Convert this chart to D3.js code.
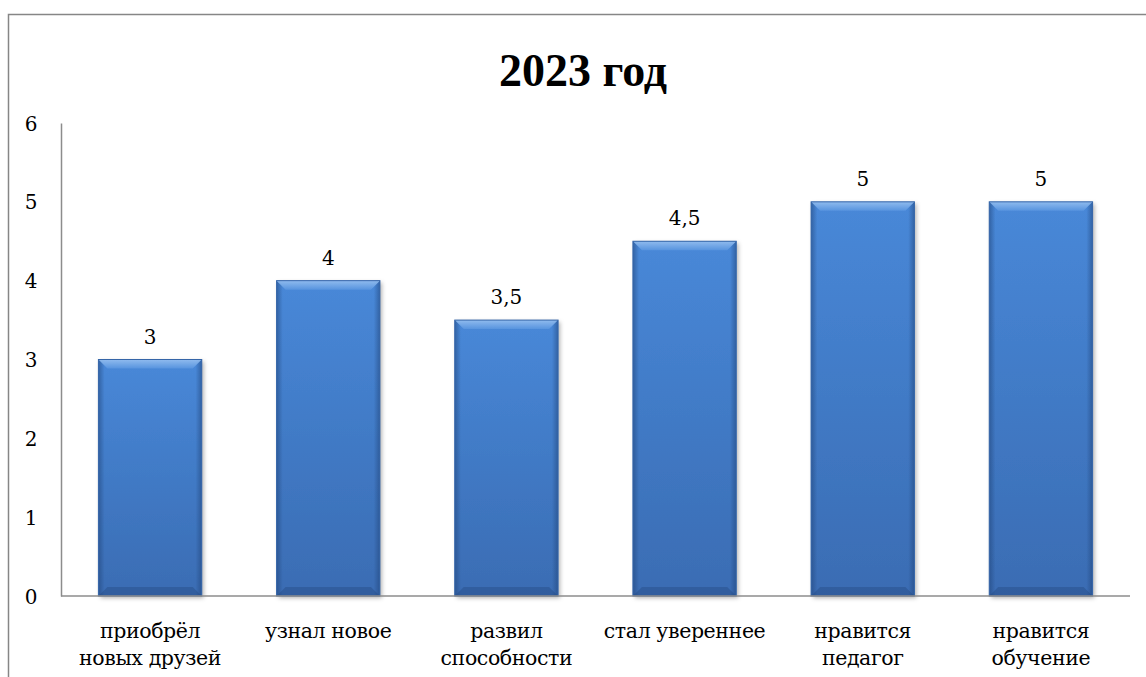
<!DOCTYPE html>
<html>
<head>
<meta charset="utf-8">
<script src="https://cdn.jsdelivr.net/npm/d3@7"></script>
<style>
  body { margin: 0; background: #fff; }
</style>
</head>
<body>
<svg id="chart" width="1146" height="677"></svg>
<script>
// data
const categories = [
  ['приобрёл', 'новых друзей'],
  ['узнал новое'],
  ['развил', 'способности'],
  ['стал увереннее'],
  ['нравится', 'педагог'],
  ['нравится', 'обучение']
];
const values = [3, 4, 3.5, 4.5, 5, 5];
const yTicks = [0, 1, 2, 3, 4, 5, 6];
const title = '2023 год';

const textFont = 'DejaVu Serif';

const svg = d3.select('#chart');

// outer frame (only left and top are inside the picture)
svg.append('rect')
  .attr('x', 8.5).attr('y', 14.5)
  .attr('width', 1200).attr('height', 800)
  .attr('fill', 'none')
  .attr('stroke', '#868686')
  .attr('stroke-width', 1.5);

const plotLeft = 61, plotRight = 1130, plotTop = 123, plotBottom = 596;

const xScale = d3.scaleBand()
  .domain(d3.range(values.length))
  .range([plotLeft, plotRight])
  .paddingInner(0.42)
  .paddingOuter(0.21);

const yScale = d3.scaleLinear()
  .domain([0, 6])
  .range([plotBottom, plotTop]);

// gradients for the bevelled bars
const defs = svg.append('defs');
const vg = defs.append('linearGradient').attr('id', 'barV')
  .attr('x1', 0).attr('y1', 0).attr('x2', 0).attr('y2', 1);
vg.append('stop').attr('offset', '0%').attr('stop-color', '#4888d8');
vg.append('stop').attr('offset', '100%').attr('stop-color', '#3a6cb3');

const hg = defs.append('linearGradient').attr('id', 'barH')
  .attr('x1', 0).attr('y1', 0).attr('x2', 1).attr('y2', 0);
hg.append('stop').attr('offset', '0%').attr('stop-color', '#1d3f72').attr('stop-opacity', 0.5);
hg.append('stop').attr('offset', '6%').attr('stop-color', '#1d3f72').attr('stop-opacity', 0.0);
hg.append('stop').attr('offset', '94%').attr('stop-color', '#1d3f72').attr('stop-opacity', 0.0);
hg.append('stop').attr('offset', '100%').attr('stop-color', '#1d3f72').attr('stop-opacity', 0.5);

const tg = defs.append('linearGradient').attr('id', 'barTop')
  .attr('x1', 0).attr('y1', 0).attr('x2', 0).attr('y2', 1);
tg.append('stop').attr('offset', '0%').attr('stop-color', '#9cc4f2');
tg.append('stop').attr('offset', '100%').attr('stop-color', '#5a96e0');

const shadow = defs.append('filter').attr('id', 'shadow')
  .attr('x', '-10%').attr('y', '-10%').attr('width', '130%').attr('height', '130%');
shadow.append('feDropShadow')
  .attr('dx', 2).attr('dy', 2).attr('stdDeviation', 2)
  .attr('flood-color', '#000').attr('flood-opacity', 0.3);

// axes
const yAxis = d3.axisLeft(yScale).tickValues(yTicks).tickSize(0).tickFormat(d3.format('d'));
const gy = svg.append('g')
  .attr('transform', `translate(${plotLeft}, 0)`)
  .call(yAxis)
  .attr('font-family', textFont)
  .attr('font-size', 20);
gy.select('.domain').attr('stroke', '#8c8c8c').attr('stroke-width', 1.5);
gy.selectAll('text')
  .attr('x', -30)
  .attr('text-anchor', 'middle')
  .attr('dy', '0.35em')
  .attr('fill', '#000');

// bars
const bars = svg.append('g').selectAll('g')
  .data(values)
  .enter()
  .append('g');

bars.append('rect')
  .attr('x', (d, i) => xScale(i))
  .attr('y', d => yScale(d))
  .attr('width', xScale.bandwidth())
  .attr('height', d => plotBottom - yScale(d))
  .attr('fill', 'url(#barV)')
  .attr('filter', 'url(#shadow)');

bars.append('rect')
  .attr('x', (d, i) => xScale(i))
  .attr('y', d => yScale(d))
  .attr('width', xScale.bandwidth())
  .attr('height', d => plotBottom - yScale(d))
  .attr('fill', 'url(#barH)');

// top bevel
const bevel = 9;
bars.append('path')
  .attr('d', (d, i) => {
    const x0 = xScale(i), x1 = x0 + xScale.bandwidth(), y0 = yScale(d);
    return `M${x0},${y0}L${x1},${y0}L${x1 - bevel},${y0 + bevel}L${x0 + bevel},${y0 + bevel}Z`;
  })
  .attr('fill', 'url(#barTop)')
  .attr('opacity', 0.85);

// bottom darker band
bars.append('path')
  .attr('d', (d, i) => {
    const x0 = xScale(i), x1 = x0 + xScale.bandwidth();
    return `M${x0},${plotBottom}L${x1},${plotBottom}L${x1 - bevel},${plotBottom - bevel}L${x0 + bevel},${plotBottom - bevel}Z`;
  })
  .attr('fill', '#24497f')
  .attr('opacity', 0.4);

// outline
bars.append('rect')
  .attr('x', (d, i) => xScale(i))
  .attr('y', d => yScale(d))
  .attr('width', xScale.bandwidth())
  .attr('height', d => plotBottom - yScale(d))
  .attr('fill', 'none')
  .attr('stroke', '#3565a8')
  .attr('stroke-width', 1);

// baseline drawn over the bars
svg.append('line')
  .attr('x1', plotLeft).attr('x2', plotRight)
  .attr('y1', plotBottom).attr('y2', plotBottom)
  .attr('stroke', '#8c8c8c')
  .attr('stroke-width', 1.5);

// value labels
bars.append('text')
  .attr('x', (d, i) => xScale(i) + xScale.bandwidth() / 2)
  .attr('y', d => yScale(d) - 16)
  .attr('text-anchor', 'middle')
  .attr('fill', '#000')
  .attr('font-size', 20)
  .attr('font-family', textFont)
  .text(d => String(d).replace('.', ','));

// category labels
const cat = svg.append('g').selectAll('text')
  .data(categories)
  .enter()
  .append('text')
  .attr('x', (d, i) => xScale(i) + xScale.bandwidth() / 2)
  .attr('y', 638)
  .attr('text-anchor', 'middle')
  .attr('fill', '#000')
  .attr('font-size', 20.5)
  .attr('letter-spacing', -0.4)
  .attr('font-family', textFont);

cat.selectAll('tspan')
  .data(d => d)
  .enter()
  .append('tspan')
  .attr('x', function () { return d3.select(this.parentNode).attr('x'); })
  .attr('dy', (d, i) => i === 0 ? 0 : 27)
  .text(d => d);

// title
svg.append('text')
  .attr('x', 583)
  .attr('y', 86)
  .attr('text-anchor', 'middle')
  .attr('fill', '#000')
  .attr('font-size', 46)
  .attr('font-weight', 'bold')
  .attr('font-family', 'Liberation Serif')
  .text(title);
</script>
</body>
</html>
